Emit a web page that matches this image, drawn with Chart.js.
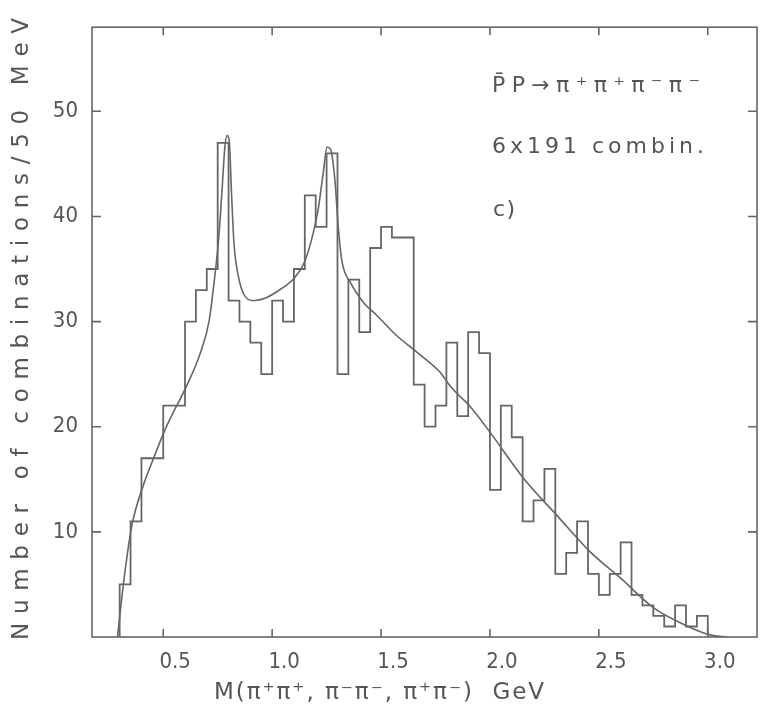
<!DOCTYPE html>
<html>
<head>
<meta charset="utf-8">
<script src="https://cdn.jsdelivr.net/npm/chart.js@4.4.1/dist/chart.umd.min.js"></script>
<style>
  html, body { margin: 0; padding: 0; background: #fff; }
  #wrap { width: 760px; height: 715px; }
</style>
</head>
<body>
<div id="wrap"><canvas id="massChart"></canvas></div>
<script>
// histogram, 50 MeV bins starting at 0.30 GeV
const binStart = 0.30;
const binWidth = 0.05;
const counts = [5, 11, 17, 17, 22, 22, 30, 33, 35, 47,
                32, 30, 28, 25, 32, 30, 35, 42, 39, 46,
                25, 34, 29, 37, 39, 38, 38, 24, 20, 22,
                28, 21, 29, 27, 14, 22, 19, 11, 13, 16,
                6, 8, 11, 6, 4, 6, 9, 4, 3, 2,
                1, 3, 1, 2];

// fitted curve
const curveMass = [0.29, 0.32, 0.355, 0.41, 0.45, 0.51, 0.61, 0.67, 0.71, 0.735, 0.755, 0.77, 0.783, 0.793,
                   0.803, 0.814, 0.825, 0.845, 0.87, 0.91, 0.975, 1.04, 1.10, 1.145, 1.18, 1.21, 1.235,
                   1.252, 1.268, 1.288, 1.304, 1.32, 1.36, 1.42, 1.48, 1.57, 1.67, 1.77, 1.82, 1.91, 2.01,
                   2.15, 2.31, 2.46, 2.60, 2.75, 2.90, 3.01, 3.09];
const curveValue = [0, 5.5, 10.5, 14.5, 16.7, 19.8, 24, 27, 30, 34, 38, 42.5, 46.6, 47.7,
                    47.2, 42, 37.4, 34.3, 32.6, 32, 32.3, 33.1, 34.1, 35.5, 37.7, 40.5, 44.2,
                    46.6, 46.4, 43.5, 38.9, 35.8, 33.7, 31.8, 30.6, 28.7, 27, 25.2, 23.8, 21.9, 19.2,
                    15.2, 11.5, 8.1, 5.6, 2.8, 1.1, 0.2, 0];

const xTicks = [0.5, 1.0, 1.5, 2.0, 2.5, 3.0];
const yTicks = [10, 20, 30, 40, 50];

const inkColor = '#666';
const textColor = '#555';
const labelFont = "'Liberation Sans Narrow', 'DejaVu Sans Condensed', 'DejaVu Sans', sans-serif";

const histPoints = [{ x: binStart, y: 0 }];
counts.forEach((c, i) => histPoints.push({ x: binStart + i * binWidth, y: c }));
histPoints.push({ x: binStart + counts.length * binWidth, y: 0 });

const curvePoints = curveMass.map((m, i) => ({ x: m, y: curveValue[i] }));

// draw text stretched to a given width (letters spread out like the original lettering)
function drawSpread(ctx, text, x0, y, width) {
    const chars = text.match(/.[\u0300-\u036f]*/gu); // keep combining marks with their letter
    const widths = chars.map(ch => ctx.measureText(ch).width);
    const total = widths.reduce((a, b) => a + b, 0);
    const gap = chars.length > 1 ? (width - total) / (chars.length - 1) : 0;
    let x = x0;
    chars.forEach((ch, i) => {
        ctx.fillText(ch, x, y);
        x += widths[i] + gap;
    });
}

const framePlugin = {
    id: 'frame',
    afterDatasetsDraw(chart) {
        const { ctx, chartArea: a, scales } = chart;
        ctx.save();
        ctx.strokeStyle = inkColor;
        ctx.lineWidth = 1.6;
        ctx.strokeRect(a.left, a.top, a.right - a.left, a.bottom - a.top);
        ctx.beginPath();
        xTicks.forEach(v => {
            const px = scales.x.getPixelForValue(v);
            ctx.moveTo(px, a.bottom); ctx.lineTo(px, a.bottom - 8);
            ctx.moveTo(px, a.top); ctx.lineTo(px, a.top + 8);
        });
        yTicks.forEach(v => {
            const py = scales.y.getPixelForValue(v);
            ctx.moveTo(a.left, py); ctx.lineTo(a.left + 9, py);
            ctx.moveTo(a.right, py); ctx.lineTo(a.right - 9, py);
        });
        ctx.stroke();
        ctx.restore();
    },
    afterDraw(chart) {
        const ctx = chart.ctx;
        ctx.save();
        ctx.fillStyle = textColor;
        ctx.textBaseline = 'middle';
        ctx.textAlign = 'left';
        ctx.font = "23px 'DejaVu Sans', sans-serif";

        // y axis title, rotated
        ctx.save();
        ctx.translate(22, 640);
        ctx.rotate(-Math.PI / 2);
        drawSpread(ctx, 'Number of combinations/50 MeV', 0, 0, 622);
        ctx.restore();

        // x axis title
        drawSpread(ctx, 'M(\u03c0\u207a\u03c0\u207a, \u03c0\u207b\u03c0\u207b, \u03c0\u207a\u03c0\u207b)  GeV', 214, 693, 330);

        // annotations
        ctx.font = "22px 'DejaVu Sans', sans-serif";
        drawSpread(ctx, 'P\u0304P\u2192\u03c0\u207a\u03c0\u207a\u03c0\u207b\u03c0\u207b', 492, 86, 208);
        drawSpread(ctx, '6x191 combin.', 492, 147, 212);
        drawSpread(ctx, 'c)', 493, 210, 22);
        ctx.restore();
    }
};

new Chart(document.getElementById('massChart'), {
    type: 'line',
    data: {
        datasets: [{
            label: 'Histogram',
            data: histPoints,
            stepped: 'before',
            borderColor: inkColor,
            borderWidth: 1.8,
            pointRadius: 0,
            fill: false
        }, {
            label: 'Fit',
            data: curvePoints,
            cubicInterpolationMode: 'monotone',
            borderColor: inkColor,
            borderWidth: 1.6,
            pointRadius: 0,
            fill: false
        }]
    },
    options: {
        responsive: true,
        maintainAspectRatio: false,
        animation: false,
        layout: { padding: { top: 12, right: 3, left: 0, bottom: 0 } },
        plugins: {
            legend: { display: false },
            tooltip: { enabled: false }
        },
        scales: {
            x: {
                type: 'linear',
                min: 0.173,
                max: 3.226,
                afterBuildTicks: axis => { axis.ticks = xTicks.map(v => ({ value: v })); },
                afterFit: scale => { scale.height = 78; },
                grid: { display: false, drawTicks: false },
                border: { display: false },
                ticks: {
                    color: textColor,
                    padding: 12,
                    labelOffset: 12,
                    maxRotation: 0,
                    font: { size: 22, family: labelFont },
                    callback: v => v.toFixed(1)
                }
            },
            y: {
                min: 0,
                max: 58,
                afterBuildTicks: axis => { axis.ticks = yTicks.map(v => ({ value: v })); },
                afterFit: scale => { scale.width = 92; },
                grid: { display: false, drawTicks: false },
                border: { display: false },
                ticks: {
                    color: textColor,
                    padding: 14,
                    font: { size: 22, family: labelFont }
                }
            }
        }
    },
    plugins: [framePlugin]
});
</script>
</body>
</html>
